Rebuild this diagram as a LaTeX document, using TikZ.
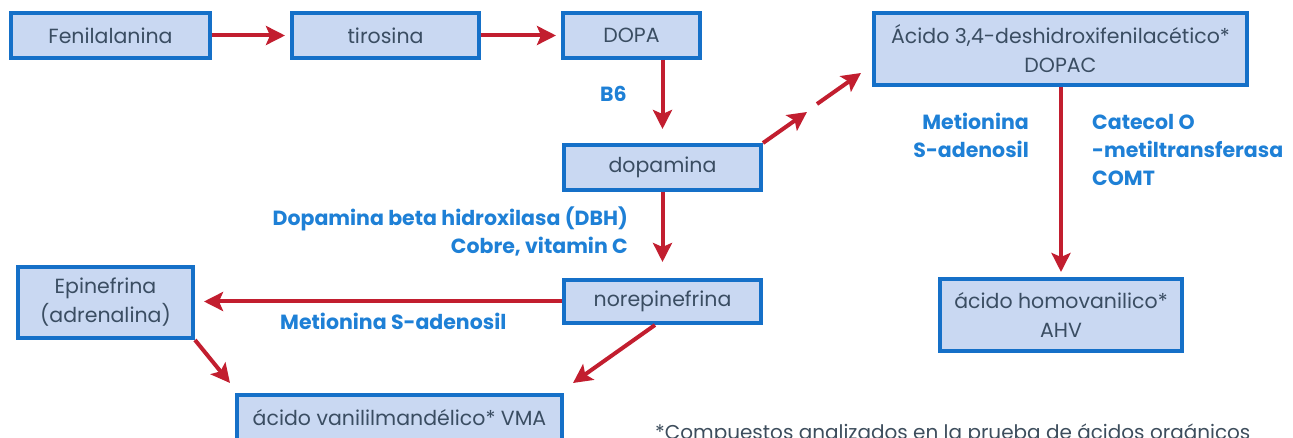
\documentclass[tikz,border=0pt]{standalone}
\usepackage{fontspec}
\setmainfont{Poppins}
\usetikzlibrary{arrows.meta,calc}
\definecolor{boxfill}{HTML}{C9D8F2}
\definecolor{boxline}{HTML}{1570C8}
\definecolor{boxtext}{HTML}{3A4D62}
\definecolor{lblblue}{HTML}{1E80D6}
\definecolor{arrred}{HTML}{C21E2F}
\definecolor{notegray}{HTML}{3D4D5C}
\begin{document}
\begin{tikzpicture}[x=1pt,y=-1pt,
  box/.style={draw=boxline, fill=boxfill, line width=4pt, text=boxtext,
    font=\fontsize{20.5}{29}\selectfont, align=center, inner sep=0pt},
  arr/.style={draw=arrred, line width=4pt, -{Stealth[length=19pt,width=19pt,inset=4pt]}},
  lbl/.style={text=lblblue, font=\fontsize{20.5}{28}\selectfont\bfseries, inner sep=0pt}]
\useasboundingbox (0,0) rectangle (1293,438);
\clip (0,0) rectangle (1293,438);
% boxes
\node[box, minimum width=199pt, minimum height=45pt] (fen) at (110.5,35.5) {Fenilalanina};
\node[box, minimum width=187pt, minimum height=45pt] (tir) at (385.5,35.5) {tirosina};
\node[box, minimum width=137pt, minimum height=45pt] (dopa) at (631.5,35.5) {DOPA};
\node[box, minimum width=373pt, minimum height=72pt] (dopac) at (1060.5,49) {Ácido 3,4-deshidroxifenilacético*\\DOPAC};
\node[box, minimum width=197pt, minimum height=45pt] (dopam) at (662.5,167.5) {dopamina};
\node[box, minimum width=197pt, minimum height=43pt] (norep) at (662.5,301.5) {norepinefrina};
\node[box, minimum width=175pt, minimum height=71pt] (epi) at (105.5,302.5) {Epinefrina\\(adrenalina)};
\node[box, minimum width=325pt, minimum height=45pt] (vma) at (399.5,417.5) {ácido vanililmandélico* VMA};
\node[box, minimum width=242pt, minimum height=72pt] (ahv) at (1061,315) {ácido homovanilico*\\AHV};
% helper coordinates
\coordinate (m1) at (807,112);
\coordinate (m2) at (817,104);
\coordinate (t2) at (861,73);
\coordinate (tev) at (230,383);
\coordinate (snv) at (655,325);
\coordinate (tnv) at (573,383);
% arrows
\draw[arr, shorten >=5pt] (fen.east) -- (tir.west);
\draw[arr, shorten >=5pt] (tir.east) -- (dopa.west);
\draw[arr, shorten >=14pt] (dopa.south -| dopam.north) -- (dopam.north);
\draw[arr, shorten >=16pt] (dopam.south) -- (norep.north);
\draw[arr, shorten >=9pt] (norep.west) -- (norep.west -| epi.east);
\draw[arr, shorten >=5pt] (dopac.south -| ahv.north) -- (ahv.north);
\draw[arr] (dopam.north east) -- (m1);
\draw[arr] (m2) -- (t2);
\draw[arr] (epi.south east) -- (tev);
\draw[arr] (snv) -- (tnv);
% labels
\node[lbl, anchor=base east] (lb6) at (627,102) {B6};
\node[lbl, anchor=base east] (ldbh) at (628,226) {Dopamina beta hidroxilasa (DBH)};
\node[lbl, anchor=base east] (lcob) at (628,254) {Cobre, vitamin C};
\node[lbl, anchor=base west] (lmet) at (280,330) {Metionina S-adenosil};
\node[lbl, anchor=base east] (lmet1) at (1029,130) {Metionina};
\node[lbl, anchor=base east] (lmet2) at (1029,158) {S-adenosil};
\node[lbl, anchor=base west] (lcat1) at (1092,130) {Catecol O};
\node[lbl, anchor=base west] (lcat2) at (1092,158) {-metiltransferasa};
\node[lbl, anchor=base west] (lcat3) at (1092,186) {COMT};
\node[anchor=base west, inner sep=0pt, text=notegray, font=\fontsize{20}{24}\selectfont] (note) at (655,439) {*Compuestos analizados en la prueba de ácidos orgánicos};
\end{tikzpicture}
\end{document}
